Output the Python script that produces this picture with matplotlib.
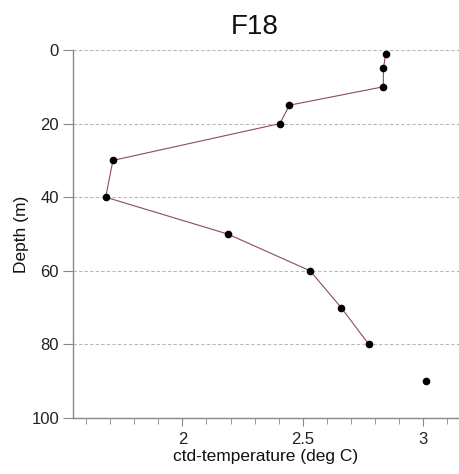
import numpy as np
import matplotlib
matplotlib.use("Agg")
import matplotlib.pyplot as plt
from matplotlib.ticker import MultipleLocator

plt.rcParams['font.family'] = ['Liberation Sans', 'DejaVu Sans']

depth = [1, 5, 10, 15, 20, 30, 40, 50, 60, 70, 80, 90]
temperature = [2.845, 2.836, 2.835, 2.445, 2.405, 1.711, 1.681, 2.188, 2.531, 2.66, 2.775, 3.014]
line_depth = depth[:11]
line_temp = temperature[:11]
title = "F18"

fig = plt.figure(figsize=(4.59, 4.74), dpi=100)
ax = fig.add_axes([73/459, 1 - 418/474, 1 - 73/459, (418 - 50)/474])

ax.plot(line_temp, line_depth, color='#8C4A60', lw=0.8, zorder=2)
ax.plot(temperature, depth, 'o', color='black', ms=4.5, zorder=3)

ax.set_xlim(1.545, 3.15)
ax.set_ylim(100, 0)
ax.set_yticks([0, 20, 40, 60, 80, 100])
ax.set_xticks([2, 2.5, 3])
ax.set_xticklabels(['2', '2.5', '3'])
ax.xaxis.set_minor_locator(MultipleLocator(0.1))

for y in [0, 20, 40, 60, 80]:
    ax.axhline(y, color='#b8b8b8', lw=0.8, ls=(0, (3, 2)), zorder=1)

for s in ['top', 'right']:
    ax.spines[s].set_visible(False)
for s in ['left', 'bottom']:
    ax.spines[s].set_color('#888888')
    ax.spines[s].set_linewidth(1.0)

ax.tick_params(axis='y', which='major', length=7, color='#888888', labelsize=12, labelcolor='#222222', pad=3)
ax.tick_params(axis='x', which='major', length=6, color='#888888', labelsize=12, labelcolor='#222222', pad=4)
ax.tick_params(axis='x', which='minor', length=4, color='#888888')

ax.set_xlabel('ctd-temperature (deg C)', fontsize=12.5, color='#111111')
ax.xaxis.set_label_coords(0.5, -(449 - 418) / 368)
ax.set_ylabel('Depth (m)', fontsize=12.5, color='#111111')
ax.yaxis.set_label_coords(-(73 - 29) / 386, 0.5)

fig.text(255/459, 1 - 27/474, title, ha='center', va='center', fontsize=20, color='#111111')

fig.savefig('out.png', dpi=100)
